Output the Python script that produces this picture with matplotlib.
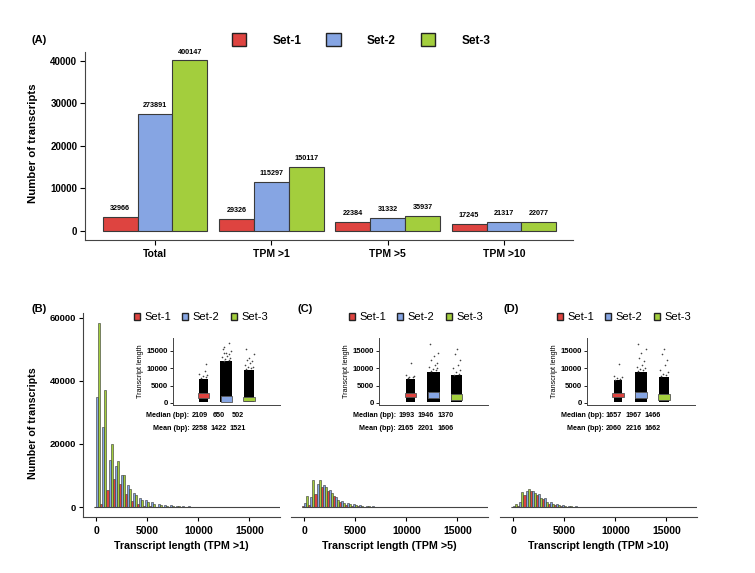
import numpy as np
import matplotlib
matplotlib.use('Agg')
import matplotlib.pyplot as plt
from matplotlib.patches import Patch
import matplotlib.transforms as mtrans

plt.rcParams['font.family'] = ['Liberation Sans', 'DejaVu Sans']

sets = ["Set-1", "Set-2", "Set-3"]
colors = ["#DE4440", "#86A5E3", "#A3CE3D"]

# ---------- panel A: transcript counts ----------
groups = ["Total", "TPM >1", "TPM >5", "TPM >10"]
set1_counts = [32966, 29326, 22384, 17245]
set2_counts = [273891, 115297, 31332, 21317]
set3_counts = [400147, 150117, 35937, 22077]

# ---------- panels B-D: length histograms (600 bp bins) ----------
bin_width = 600
tpm1_set1 = [0, 800, 5500, 9000, 7200, 4000, 1800, 800, 400, 200, 100, 60, 40, 25, 15, 10, 6, 4, 2]
tpm1_set2 = [35000, 25300, 15000, 12900, 10200, 6900, 4400, 3000, 2100, 1500, 1000, 700, 500, 350, 250, 170, 110, 70, 40]
tpm1_set3 = [58300, 37000, 19900, 14600, 10000, 5700, 3700, 2300, 1500, 1000, 700, 450, 300, 200, 130, 90, 60, 40, 25]

tpm5_set1 = [200, 500, 4000, 6500, 5200, 3500, 1500, 700, 400, 200, 120, 70, 40, 25, 15, 10, 5]
tpm5_set2 = [1400, 3200, 7400, 7000, 5500, 3200, 1900, 1270, 800, 500, 320, 200, 130, 80, 50, 30, 20]
tpm5_set3 = [3500, 8700, 8450, 6300, 4400, 2100, 1270, 800, 500, 300, 200, 120, 80, 50, 30, 20, 10]

tpm10_set1 = [100, 300, 3800, 5000, 3800, 2500, 1100, 500, 250, 120, 70, 40, 25, 15, 10, 5]
tpm10_set2 = [400, 1500, 5000, 5200, 4000, 2700, 1500, 900, 550, 350, 220, 140, 90, 55, 35, 20]
tpm10_set3 = [1000, 4700, 5800, 4600, 3000, 1700, 900, 500, 300, 180, 110, 70, 45, 30, 20, 10]

# inset: interquartile boxes, dense point range and sparse long transcripts
tpm1_q1 = [1500, 300, 550]
tpm1_q3 = [2900, 2100, 1800]
tpm5_q1 = [1640, 1350, 860]
tpm5_q3 = [2970, 3080, 2500]
tpm10_q1 = [1640, 1350, 860]
tpm10_q3 = [2970, 3170, 2600]

dense_min = [250, 200, 200]
tpm1_dense_max = [7000, 12000, 9500]
tpm5_dense_max = [7000, 9000, 8000]
tpm10_dense_max = [6500, 9000, 7500]

tpm1_long = [[7200, 7600, 7800, 8000, 8300, 9300, 11300],
             [12200, 12500, 12800, 13000, 13300, 13500, 14000, 14300, 14500, 15000, 15500, 16200, 17200],
             [9700, 10000, 10300, 10500, 11000, 11500, 12000, 12500, 13000, 14000, 15600]]
tpm5_long = [[7200, 7400, 7600, 7800, 8200, 11400],
             [9200, 9500, 9800, 10000, 10500, 11000, 11500, 12500, 13500, 14500, 17000],
             [8200, 8500, 9000, 9500, 10000, 11000, 12500, 14000, 15600]]
tpm10_long = [[6700, 6800, 7200, 7500, 7800, 11300],
              [9200, 9500, 9800, 10000, 10500, 11000, 12000, 13000, 14500, 15600, 17000],
              [7700, 8000, 8500, 9000, 9500, 11000, 12500, 14000, 15600]]

tpm1_median = [2109, 650, 502]
tpm1_mean = [2258, 1422, 1521]
tpm5_median = [1993, 1946, 1370]
tpm5_mean = [2165, 2201, 1606]
tpm10_median = [1657, 1967, 1466]
tpm10_mean = [2060, 2216, 1662]

jitter = [-0.12, 0.1, -0.04, 0.16, -0.18, 0.05, 0.13, -0.09, 0.0, 0.2, -0.15]
dense_width = [0.38, 0.52, 0.46]

W, H = 755, 573
fig = plt.figure(figsize=(W / 100, H / 100), dpi=100)


def px_axes(x0, y0, x1, y1):
    return fig.add_axes([x0 / W, 1 - y1 / H, (x1 - x0) / W, (y1 - y0) / H])


# ---------------- (A) ----------------
ax = px_axes(85, 52, 573, 240)
x = np.arange(len(groups))
bw = 0.3
for i, counts in enumerate([set1_counts, set2_counts, set3_counts]):
    # bar heights are drawn at a tenth of the labelled number
    heights = np.array(counts) / 10
    ax.bar(x + (i - 1) * bw, heights, bw, color=colors[i], edgecolor='#3a3a3a', linewidth=0.8)
    for xx, h, c in zip(x + (i - 1) * bw, heights, counts):
        ax.annotate(str(c), (xx, h), xytext=(0, 3.5), textcoords='offset points',
                    ha='center', va='bottom', fontsize=5.2, fontweight='bold')
ax.set_xlim(-0.602, 3.593)
ax.set_ylim(-2100, 42000)
ax.set_yticks([0, 10000, 20000, 30000, 40000])
ax.set_xticks(x)
ax.set_xticklabels(groups, fontsize=7.5, fontweight='bold')
for t in ax.get_yticklabels():
    t.set_fontsize(7)
    t.set_fontweight('bold')
ax.tick_params(axis='both', direction='out', length=3.5, width=0.8, pad=2)
ax.tick_params(axis='x', pad=3)
for s in ['top', 'right']:
    ax.spines[s].set_visible(False)
for s in ['left', 'bottom']:
    ax.spines[s].set_linewidth(0.8)
    ax.spines[s].set_color('#444444')
ax.set_ylabel("Number of transcripts", fontsize=8.2, fontweight='bold')
ax.yaxis.set_label_coords(-0.096, 0.513)

handles = [Patch(facecolor=c, edgecolor='#222222', linewidth=1) for c in colors]
fig.legend(handles, sets, loc='center', bbox_to_anchor=(361 / W, 1 - 40 / H), ncol=3,
           frameon=False, handlelength=1.25, handleheight=1.25, handletextpad=2.2,
           columnspacing=2.1, prop={'size': 8.5, 'weight': 'bold'})
fig.text(32 / W, 1 - 40 / H, "(A)", fontsize=8, fontweight='bold', va='center')

# ---------------- (B)-(D) ----------------
panels = [
    ("(B)", "Transcript length (TPM >1)", [tpm1_set1, tpm1_set2, tpm1_set3],
     tpm1_q1, tpm1_q3, tpm1_dense_max, tpm1_long, tpm1_median, tpm1_mean,
     (83, 280), (172.7, 280), 32, 201),
    ("(C)", "Transcript length (TPM >5)", [tpm5_set1, tpm5_set2, tpm5_set3],
     tpm5_q1, tpm5_q3, tpm5_dense_max, tpm5_long, tpm5_median, tpm5_mean,
     (291, 488), (379, 488), 297, 416),
    ("(D)", "Transcript length (TPM >10)", [tpm10_set1, tpm10_set2, tpm10_set3],
     tpm10_q1, tpm10_q3, tpm10_dense_max, tpm10_long, tpm10_median, tpm10_mean,
     (500, 697), (587, 695), 503, 624),
]

for n, (tag, xlabel, hists, q1, q3, dmax, longs, med, mean, (mx0, mx1), (ix0, ix1), tagx, legx) in enumerate(panels):
    ax = px_axes(mx0, 313, mx1, 516.7)
    for i, counts in enumerate(hists):
        k = np.arange(len(counts))
        centers = k * bin_width - bin_width / 3 + (i + 0.5) * bin_width / 3
        ax.bar(centers, counts, bin_width / 3, color=colors[i], edgecolor='#333333', linewidth=0.4)
    ax.hlines(0, -250, 18000, color='#444444', linewidth=0.8)
    ax.set_xlim(-1300, 18000)
    ax.set_ylim(-3070, 61500)
    ax.set_xticks([0, 5000, 10000, 15000])
    for t in ax.get_xticklabels():
        t.set_fontsize(7.5)
        t.set_fontweight('bold')
    ax.tick_params(axis='both', direction='out', length=3, width=0.8, pad=3.5)
    for s in ['top', 'right']:
        ax.spines[s].set_visible(False)
    ax.spines['bottom'].set_linewidth(0.8)
    ax.spines['bottom'].set_color('#444444')
    ax.set_xlabel(xlabel, fontsize=7.7, fontweight='bold', labelpad=4)
    if n == 0:
        ax.set_yticks([0, 20000, 40000, 60000])
        for t in ax.get_yticklabels():
            t.set_fontsize(6.8)
            t.set_fontweight('bold')
        ax.tick_params(axis='y', pad=2)
        ax.spines['left'].set_linewidth(0.8)
        ax.spines['left'].set_color('#444444')
        ax.set_ylabel("Number of transcripts", fontsize=7.7, fontweight='bold')
        ax.yaxis.set_label_coords(-0.228, 0.457)
    else:
        ax.spines['left'].set_visible(False)
        ax.set_yticks([])

    fig.text(tagx / W, 1 - 309 / H, tag, fontsize=8, fontweight='bold', va='center')
    fig.legend(handles, sets, loc='center', bbox_to_anchor=(legx / W, 1 - 317 / H), ncol=3,
               frameon=False, handlelength=0.55, handleheight=0.6, handletextpad=0.4,
               columnspacing=1.0, prop={'size': 8})

    # inset strip plot
    axi = px_axes(ix0, 338, ix1, 405)
    pos = np.arange(1, 4)
    axi.bar(pos, np.array(dmax) - np.array(dense_min), dense_width, bottom=dense_min,
            color='black', zorder=2)
    for p, vals in zip(pos, longs):
        jx = [p + jitter[j % len(jitter)] for j in range(len(vals))]
        axi.scatter(jx, vals, s=1.4, color='#444444', linewidths=0, zorder=2)
    axi.bar(pos, np.array(q3) - np.array(q1), 0.5, bottom=q1, color=colors,
            edgecolor='#555555', linewidth=0.6, zorder=3)
    axi.set_xlim(-0.35, 4.35)
    axi.set_ylim(-580, 18750)
    axi.set_xticks([])
    axi.set_yticks([0, 5000, 10000, 15000])
    for t in axi.get_yticklabels():
        t.set_fontsize(5.6)
        t.set_fontweight('bold')
    axi.tick_params(axis='y', direction='out', length=2, width=0.6, pad=1.5)
    for s in ['top', 'right']:
        axi.spines[s].set_visible(False)
    for s in ['left', 'bottom']:
        axi.spines[s].set_linewidth(0.7)
        axi.spines[s].set_color('#444444')
    axi.set_ylabel("Transcript length", fontsize=5.2, labelpad=2)
    axi.patch.set_alpha(0)

    tr = mtrans.blended_transform_factory(axi.transData, axi.transAxes)
    axi.text(0.38, -0.164, "Median (bp):", transform=tr, ha='right', va='center',
             fontsize=5.2, fontweight='bold')
    axi.text(0.38, -0.358, "Mean (bp):", transform=tr, ha='right', va='center',
             fontsize=5.2, fontweight='bold')
    for tx, md, mn in zip([0.82, 1.67, 2.5], med, mean):
        axi.text(tx, -0.164, str(md), transform=tr, ha='center', va='center',
                 fontsize=5.2, fontweight='bold')
        axi.text(tx, -0.358, str(mn), transform=tr, ha='center', va='center',
                 fontsize=5.2, fontweight='bold')

fig.savefig("out.png", dpi=100)
